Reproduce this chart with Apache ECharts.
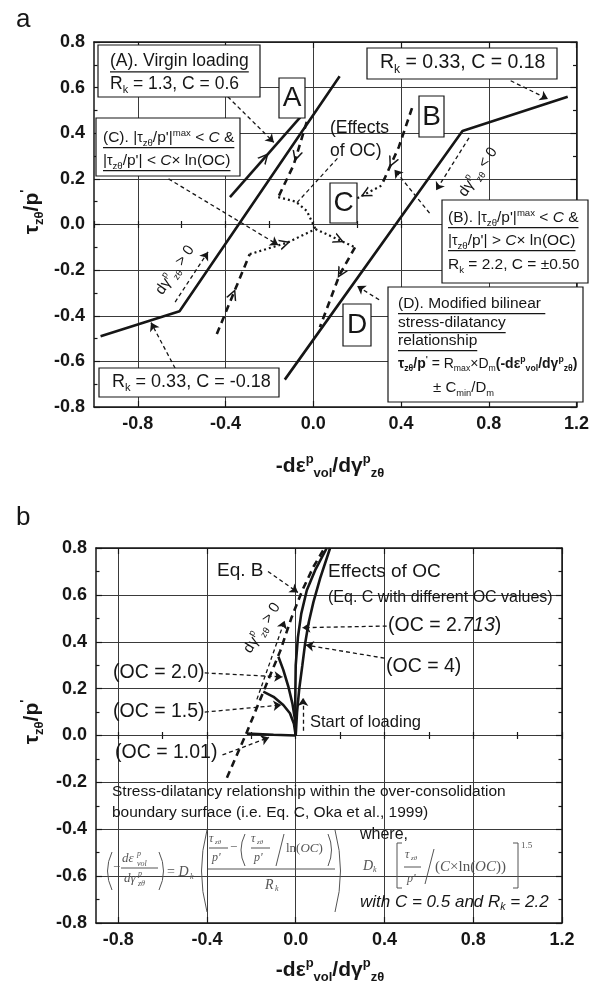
<!DOCTYPE html>
<html>
<head>
<meta charset="utf-8">
<title>Stress–dilatancy relationships</title>
<script src="https://cdn.jsdelivr.net/npm/echarts@6.0.0/dist/echarts.min.js"></script>
<style>
  html, body { margin: 0; padding: 0; background: #fff; }
  #chart { width: 592px; height: 992px; }
</style>
</head>
<body>
<div id="chart"></div>
<script>
// ---------- axis ticks ----------
const xMajorTicks = [-0.8, -0.4, 0.0, 0.4, 0.8, 1.2];
const xMinorTicksA = [-1.0, -0.8, -0.6, -0.4, -0.2, 0.0, 0.2, 0.4, 0.6, 0.8, 1.0, 1.2];
const xMinorTicksB = [-0.8, -0.6, -0.4, -0.2, 0.0, 0.2, 0.4, 0.6, 0.8, 1.0, 1.2];
const xRangeA = [-1.0, 1.2];
const xRangeB = [-0.9, 1.2];
const yRange = [-0.8, 0.8];
const yStep = 0.2;

// ---------- panel a: bilinear stress-dilatancy lines ----------
const aBilinearLeft  = [[-0.97, -0.49], [-0.61, -0.38], [0.12, 0.65]];
const aVirginA       = [[-0.38, 0.12], [-0.06, 0.47]];
const aBilinearRight = [[-0.13, -0.68], [0.68, 0.41], [1.16, 0.56]];

// loading paths (thick dashed)
const aPathUp    = [[-0.44, -0.48], [-0.29, -0.13]];
const aPathFromA = [[-0.03, 0.45], [-0.09, 0.26], [-0.16, 0.12]];
const aPathToD   = [[0.19, -0.10], [0.12, -0.22], [0.03, -0.45]];
const aPathFromB = [[0.45, 0.51], [0.39, 0.34], [0.31, 0.17]];

// paths inside the over-consolidation boundary (dotted)
const aOcTop   = [[-0.16, 0.12], [-0.08, 0.10], [-0.03, 0.06], [0.01, -0.02]];
const aOcLeft  = [[-0.29, -0.13], [-0.12, -0.08], [0.01, -0.02]];
const aOcRight = [[0.01, -0.02], [0.19, -0.10]];
const aOcFromB = [[0.31, 0.17], [0.19, 0.11]];

// leader lines with arrowheads: [from, to]
const aPointers = [
  [[-0.39, 0.56], [-0.18, 0.36]],
  [[-0.66, 0.20], [-0.16, -0.09]],
  [[0.90, 0.63], [1.07, 0.55]],
  [[0.53, 0.05], [0.37, 0.24]],
  [[0.71, 0.38], [0.56, 0.15]],
  [[-0.63, -0.34], [-0.48, -0.12]],
  [[-0.63, -0.63], [-0.74, -0.43]],
  [[0.30, -0.33], [0.20, -0.27]]
];
const aEffectsLeader = [[0.11, 0.29], [-0.08, 0.09]];

// ---------- panel b: Eq. B and Eq. C curves ----------
const bEqB    = [[-0.31, -0.18], [-0.22, 0.015], [-0.14, 0.20], [-0.07, 0.36], [-0.02, 0.50], [0.03, 0.62], [0.08, 0.72], [0.13, 0.80]];
const bOC101  = [[0, 0], [-0.10, 0.003], [-0.22, 0.008]];
const bOC15   = [[0, 0], [-0.008, 0.05], [-0.026, 0.095], [-0.056, 0.13], [-0.10, 0.165], [-0.146, 0.187]];
const bOC20   = [[0, 0], [-0.003, 0.066], [-0.015, 0.137], [-0.033, 0.208], [-0.056, 0.28], [-0.078, 0.336]];
const bOC2713 = [[0, 0], [-0.002, 0.15], [0.0, 0.30], [0.01, 0.42], [0.025, 0.52], [0.05, 0.62], [0.09, 0.71], [0.14, 0.80]];
const bOC4    = [[0, 0], [0.006, 0.10], [0.016, 0.20], [0.03, 0.30], [0.042, 0.39], [0.058, 0.48], [0.08, 0.57], [0.11, 0.67], [0.155, 0.80]];

const bPointers = [
  [[-0.125, 0.70], [0.01, 0.61]],
  [[0.41, 0.467], [0.03, 0.46]],
  [[0.40, 0.33], [0.045, 0.386]],
  [[-0.41, 0.267], [-0.06, 0.25]],
  [[-0.41, 0.10], [-0.065, 0.13]],
  [[-0.33, -0.083], [-0.12, -0.008]],
  [[-0.175, 0.154], [-0.05, 0.49]],
  [[0.033, 0.02], [0.033, 0.16]]
];

// ---------- styling ----------
const FONT = "'Liberation Sans', Arial, Helvetica, sans-serif";
const SERIF = "'Liberation Serif', 'Times New Roman', serif";
const INK = '#161616';
const GRID = '#3a3a3a';
const EQ = '#555555';

const SOLID = { color: INK, width: 2.6, type: 'solid' };
const DASH  = { color: INK, width: 2.6, type: [7, 5] };
const DOT   = { color: INK, width: 2.2, type: [2, 3] };
const THIN  = { color: INK, width: 1.2, type: [4, 3] };

const CHEVRON = 'path://M0,12 L6,0 L12,12 L10.2,12 L6,3.6 L1.8,12 Z';

const fmt = v => (Math.abs(v) < 1e-9 ? 0 : v).toFixed(1);
const tickLabel = { show: true, margin: 8, color: INK, fontFamily: FONT, fontWeight: 'bold', fontSize: 18, formatter: fmt };
const tickStyle = { color: INK, width: 1.2 };
const frameLine = { show: true, onZero: false, lineStyle: { color: INK, width: 1.5 } };

function panelAxes(gridIndex, xr, xMinor) {
  const base = { type: 'value', gridIndex, min: xr[0], max: xr[1], splitLine: { show: false },
                 axisLabel: { show: false }, axisTick: { show: false }, axisLine: { show: false } };
  const major = { show: true, inside: true, length: 6, customValues: xMajorTicks, lineStyle: tickStyle };
  const minor = { show: true, inside: true, length: 3.5, customValues: xMinor, lineStyle: tickStyle };
  const x = [
    Object.assign({}, base, { position: 'bottom', axisLine: frameLine, axisTick: major,
      axisLabel: Object.assign({ customValues: xMajorTicks }, tickLabel),
      splitLine: { show: true, lineStyle: { color: GRID, width: 1 } } }),
    Object.assign({}, base, { position: 'bottom', axisTick: minor }),
    Object.assign({}, base, { position: 'top', axisLine: frameLine, axisTick: major }),
    Object.assign({}, base, { position: 'top', axisTick: minor })
  ];
  const ybase = { type: 'value', gridIndex, min: yRange[0], max: yRange[1], interval: yStep, axisLine: frameLine,
                  axisTick: { show: true, inside: true, length: 6, lineStyle: tickStyle },
                  minorTick: { show: true, splitNumber: 2, length: 3.5, lineStyle: tickStyle } };
  const y = [
    Object.assign({}, ybase, { position: 'left', axisLabel: Object.assign({}, tickLabel, { margin: 9 }),
      splitLine: { show: true, lineStyle: { color: GRID, width: 1 } } }),
    Object.assign({}, ybase, { position: 'right', axisLabel: { show: false }, splitLine: { show: false } })
  ];
  return { x, y };
}

const axA = panelAxes(0, xRangeA, xMinorTicksA);
const axB = panelAxes(1, xRangeB, xMinorTicksB);

// series helpers
function S(name, data, panel, style, extra) {
  return Object.assign({
    name, type: 'line', data,
    xAxisIndex: panel === 0 ? 0 : 4, yAxisIndex: panel === 0 ? 0 : 2,
    symbol: 'none', showSymbol: false, silent: true, animation: false, z: 3,
    lineStyle: style
  }, extra || {});
}
function along(path, seg, t) {
  const a = path[seg], b = path[seg + 1];
  return [a[0] + (b[0] - a[0]) * t, a[1] + (b[1] - a[1]) * t];
}
function chevron(path, seg, t) {
  return [{ coord: along(path, seg, t - 0.08) }, { coord: along(path, seg, t) }];
}
function chevronMarks(list) {
  return { silent: true, animation: false, symbol: ['none', CHEVRON], symbolSize: 11,
           label: { show: false }, emphasis: { disabled: true },
           lineStyle: { color: INK, width: 0, type: 'solid' }, data: list };
}
function pointerMarks(list) {
  return { silent: true, animation: false, symbol: ['none', 'arrow'], symbolSize: 8,
           label: { show: false }, emphasis: { disabled: true },
           lineStyle: { color: INK, width: 1.3, type: [4, 3] },
           data: list.map(([a, b]) => [{ coord: a }, { coord: b }]) };
}

// ---------- text helpers ----------
const ctx2d = document.createElement('canvas').getContext('2d');
function textWidth(font, s) { ctx2d.font = font; return ctx2d.measureText(s).width; }

function makeRich(size, fam, col, bold) {
  const w = bold ? 'bold ' : '';
  const s = Math.round(size * 0.62 * 10) / 10;
  const lh = Math.round(size * 1.3);
  return {
    n:    { font: `${w}${size}px ${fam}`, fill: col, lineHeight: lh },
    i:    { font: `italic ${w}${size}px ${fam}`, fill: col, lineHeight: lh },
    b:    { font: `bold ${size}px ${fam}`, fill: col, lineHeight: lh },
    t:    { font: `${w}${Math.round(size * 0.9)}px ${fam}`, fill: col, lineHeight: lh },
    sub:  { font: `${w}${s}px ${fam}`, fill: col, lineHeight: s, verticalAlign: 'bottom' },
    sup:  { font: `${w}${s}px ${fam}`, fill: col, lineHeight: s, verticalAlign: 'top' },
    isub: { font: `italic ${w}${s}px ${fam}`, fill: col, lineHeight: s, verticalAlign: 'bottom' },
    bsub: { font: `bold ${s}px ${fam}`, fill: col, lineHeight: s, verticalAlign: 'bottom' },
    bsup: { font: `bold ${s}px ${fam}`, fill: col, lineHeight: s, verticalAlign: 'top' }
  };
}

function T(x, y, parts, size, o) {
  o = o || {};
  const fam = o.serif ? SERIF : FONT;
  const col = o.color || INK;
  const rich = makeRich(size, fam, col, o.bold);
  const norm = parts.map(p => (typeof p === 'string' ? ['n', p] : p));
  const text = norm.map(([k, t]) => `{${k}|${t}}`).join('');
  const els = [{
    type: 'text', x, y, z: 120, silent: true,
    rotation: o.rot ? o.rot * Math.PI / 180 : 0,
    style: { text, rich, font: rich.n.font, fill: col, lineHeight: Math.round(size * 1.3),
             textAlign: o.align || 'left', textVerticalAlign: 'middle' }
  }];
  if (o.underline) {
    let w = 0;
    norm.forEach(([k, t]) => { w += textWidth(rich[k].font, t); });
    const x0 = o.align === 'center' ? x - w / 2 : x;
    const yy = y + size * 0.62;
    els.push({ type: 'line', z: 120, silent: true, shape: { x1: x0, y1: yy, x2: x0 + w, y2: yy },
               style: { stroke: col, lineWidth: 1.3 } });
  }
  return els;
}
function Bx(x, y, w, h) {
  return { type: 'rect', z: 110, silent: true, shape: { x, y, width: w, height: h },
           style: { fill: '#fff', stroke: INK, lineWidth: 1.2 } };
}
function Ln(x1, y1, x2, y2, col, lw) {
  return { type: 'line', z: 120, silent: true, shape: { x1, y1, x2, y2 },
           style: { stroke: col || EQ, lineWidth: lw || 1 } };
}
// curved bracket: quadratic curve from (x1,y1) to (x2,y2) bending through (cx,cy)
function Curve(x1, y1, cx, cy, x2, y2) {
  return { type: 'bezierCurve', z: 120, silent: true, shape: { x1, y1, x2, y2, cpx1: cx, cpy1: cy },
           style: { stroke: EQ, fill: null, lineWidth: 1 } };
}
function Poly(points) {
  return { type: 'polyline', z: 120, silent: true, shape: { points },
           style: { stroke: EQ, fill: null, lineWidth: 1 } };
}
const E = (x, y, parts, size) => T(x, y, parts, size, { serif: true, color: EQ });

const dGamma = (sign) => ['dγ', ['sup', 'p'], ['sub', 'zθ'], ` ${sign} 0`];
const xTitle = [['n', '-dε'], ['sup', 'p'], ['sub', 'vol'], ['n', '/dγ'], ['sup', 'p'], ['sub', 'zθ']];
const yTitle = [['n', 'τ'], ['sub', 'zθ'], ['n', '/p'], ['sup', "'"]];

const elements = [].concat(
  // panel letters
  T(16, 20, ['a'], 26),
  T(16, 518, ['b'], 26),

  // axis titles
  T(330, 466, xTitle, 21, { bold: true, align: 'center' }),
  T(32, 212, yTitle, 21, { bold: true, align: 'center', rot: 90 }),
  T(330, 970, xTitle, 21, { bold: true, align: 'center' }),
  T(32, 722, yTitle, 21, { bold: true, align: 'center', rot: 90 }),

  // ----- panel a annotations -----
  Bx(98, 45, 162, 52),
  T(110, 61, ['(A). Virgin loading'], 17.5, { underline: true }),
  T(110, 84, ['R', ['sub', 'k'], ' = 1.3, C = 0.6'], 17.5),
  Bx(279, 78, 26, 40), T(292, 98, ['A'], 28, { align: 'center' }),
  Bx(96, 118, 144, 58),
  T(103, 138, ['(C). |', ['t', 'τ'], ['sub', 'zθ'], "/p'|", ['sup', 'max'], ' < ', ['i', 'C'], ' &'], 15.5, { underline: true }),
  T(103, 161, ['|', ['t', 'τ'], ['sub', 'zθ'], "/p'| < ", ['i', 'C'], '× ln(OC)'], 15.5, { underline: true }),
  T(330, 128, ['(Effects'], 17.5),
  T(330, 151, ['of OC)'], 17.5),
  Bx(419, 96, 25, 41), T(431.5, 117, ['B'], 28, { align: 'center' }),
  Bx(367, 48, 190, 31), T(380, 63, ['R', ['sub', 'k'], ' = 0.33, C = 0.18'], 19.5),
  Bx(330, 183, 27, 40), T(343.5, 203, ['C'], 28, { align: 'center' }),
  Bx(442, 200, 146, 83),
  T(448, 218, ['(B). |', ['t', 'τ'], ['sub', 'zθ'], "/p'|", ['sup', 'max'], ' < ', ['i', 'C'], ' &'], 15.5, { underline: true }),
  T(448, 241, ['|', ['t', 'τ'], ['sub', 'zθ'], "/p'| > ", ['i', 'C'], '× ln(OC)'], 15.5, { underline: true }),
  T(448, 265, ['R', ['sub', 'k'], ' = 2.2, C = ±0.50'], 15.5),
  Bx(388, 287, 195, 115),
  T(398, 304, ['(D). Modified bilinear '], 15.5, { underline: true }),
  T(398, 323, ['stress-dilatancy'], 15.5, { underline: true }),
  T(398, 341, ['relationship'], 15.5, { underline: true }),
  T(398, 364, [['b', 'τ'], ['bsub', 'zθ'], ['b', '/p'], ['bsup', "'"], ' = R', ['sub', 'max'], '×D', ['sub', 'm'],
               ['b', '(-dε'], ['bsup', 'p'], ['bsub', 'vol'], ['b', '/dγ'], ['bsup', 'p'], ['bsub', 'zθ'], ['b', ')']], 14),
  T(433, 388, ['± C', ['sub', 'min'], '/D', ['sub', 'm']], 15),
  Bx(343, 304, 28, 42), T(357, 325, ['D'], 28, { align: 'center' }),
  Bx(99, 368, 180, 29), T(112, 382, ['R', ['sub', 'k'], ' = 0.33, C = -0.18'], 18),
  T(175, 270, dGamma('>'), 15, { rot: 55, align: 'center' }),
  T(478, 172, dGamma('<'), 15, { rot: 55, align: 'center' }),

  // ----- panel b annotations -----
  T(217, 571, ['Eq. B'], 19),
  T(328, 572, ['Effects of OC'], 19),
  T(328, 598, ['(Eq. C with different OC values)'], 16),
  T(388, 626, ['(OC = 2.', ['i', '713'], ')'], 19.5),
  T(386, 667, ['(OC = 4)'], 19.5),
  T(113, 673, ['(OC = 2.0)'], 19.5),
  T(113, 712, ['(OC = 1.5)'], 19.5),
  T(115, 753, ['(OC = 1.01)'], 19.5),
  T(310, 722, ['Start of loading'], 16.5),
  T(262, 628, dGamma('>'), 15, { rot: 58, align: 'center' }),
  T(112, 792, ['Stress-dilatancy relationship within the over-consolidation'], 15.5),
  T(112, 813, ['boundary surface (i.e. Eq. C, Oka et al., 1999)'], 15.5),
  T(360, 835, ['where,'], 16),
  T(360, 902, [['i', 'with C = 0.5 and R'], ['isub', 'k'], ['i', ' = 2.2']], 17),

  // Eq. C written out
  Curve(112, 852, 103, 871, 112, 890),
  E(113, 868, ['−'], 13),
  E(122, 859, [['i', 'dε']], 13), E(137, 854, [['i', 'p']], 8), E(137, 864, [['i', 'vol']], 8),
  Ln(121, 868, 158, 868),
  E(124, 879, [['i', 'dγ']], 13), E(138, 874, [['i', 'p']], 8), E(138, 884, [['i', 'zθ']], 8),
  Curve(159, 852, 168, 871, 159, 890),
  E(167, 872, ['= ', ['i', 'D']], 14), E(190, 877, [['i', 'k']], 8),
  Curve(207, 830, 196, 871, 207, 912),
  E(209, 839, [['i', 'τ']], 12), E(215, 842, [['i', 'zθ']], 7), Ln(209, 848, 228, 848), E(212, 858, [['i', "p'"]], 12),
  E(230, 848, ['−'], 13),
  Curve(245, 834, 237, 850, 245, 866),
  E(251, 839, [['i', 'τ']], 12), E(257, 842, [['i', 'zθ']], 7), Ln(251, 848, 270, 848), E(254, 858, [['i', "p'"]], 12),
  Ln(276, 866, 284, 834),
  E(286, 849, ['ln(', ['i', 'OC'], ')'], 13),
  Curve(328, 834, 335, 850, 328, 866),
  Ln(208, 869, 335, 869),
  E(265, 885, [['i', 'R']], 14), E(275, 889, [['i', 'k']], 8),
  Curve(335, 830, 346, 871, 335, 912),
  E(363, 866, [['i', 'D']], 14), E(373, 870, [['i', 'k']], 8),
  Poly([[402, 843], [397, 843], [397, 888], [402, 888]]),
  E(405, 855, [['i', 'τ']], 12), E(411, 858, [['i', 'zθ']], 7), Ln(404, 867, 421, 867), E(407, 879, [['i', "p'"]], 12),
  Ln(425, 884, 434, 849),
  E(435, 867, ['(', ['i', 'C'], '×ln(', ['i', 'OC'], '))'], 15),
  Poly([[513, 843], [518, 843], [518, 888], [513, 888]]),
  E(521, 846, ['1.5'], 9)
);

const option = {
  animation: false,
  backgroundColor: '#fff',
  grid: [
    { left: 94, top: 42, width: 490, height: 365 },
    { left: 96, top: 548, width: 466, height: 375 }
  ],
  xAxis: axA.x.concat(axB.x),
  yAxis: axA.y.concat(axB.y),
  series: [
    // panel a
    S('bilinear (lower left)', aBilinearLeft, 0, SOLID, { markLine: pointerMarks(aPointers) }),
    S('virgin loading A', aVirginA, 0, SOLID, { markLine: chevronMarks([chevron(aVirginA, 0, 0.5)]) }),
    S('bilinear (upper right)', aBilinearRight, 0, SOLID),
    S('path up', aPathUp, 0, DASH, { markLine: chevronMarks([chevron(aPathUp, 0, 0.5)]) }),
    S('path from A', aPathFromA, 0, DASH, { markLine: chevronMarks([chevron(aPathFromA, 0, 0.8)]) }),
    S('path to D', aPathToD, 0, DASH, { markLine: chevronMarks([chevron(aPathToD, 0, 0.95)]) }),
    S('path from B', aPathFromB, 0, DASH, { markLine: chevronMarks([chevron(aPathFromB, 1, 0.4)]) }),
    S('OC top', aOcTop, 0, DOT),
    S('OC left', aOcLeft, 0, DOT, { markLine: chevronMarks([chevron(aOcLeft, 0, 0.95)]) }),
    S('OC right', aOcRight, 0, DOT, { markLine: chevronMarks([chevron(aOcRight, 0, 0.6)]) }),
    S('OC from B', aOcFromB, 0, DOT, { markLine: chevronMarks([chevron(aOcFromB, 0, 0.6)]) }),
    S('effects leader', aEffectsLeader, 0, THIN),
    // panel b
    S('Eq. B', bEqB, 1, DASH, { markLine: pointerMarks(bPointers) }),
    S('OC = 1.01', bOC101, 1, SOLID),
    S('OC = 1.5', bOC15, 1, SOLID),
    S('OC = 2.0', bOC20, 1, SOLID),
    S('OC = 2.713', bOC2713, 1, SOLID),
    S('OC = 4', bOC4, 1, SOLID)
  ],
  graphic: { elements }
};

const chart = echarts.init(document.getElementById('chart'), null, { renderer: 'canvas' });
chart.setOption(option);
</script>
</body>
</html>
